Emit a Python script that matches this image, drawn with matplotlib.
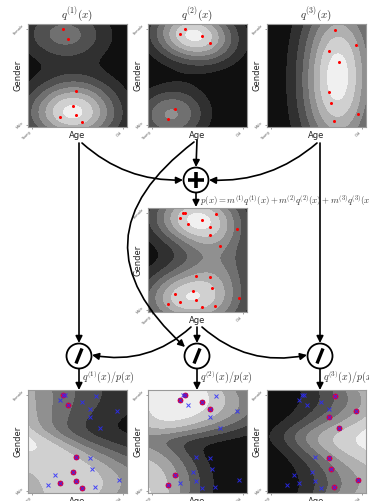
import numpy as np
import matplotlib
matplotlib.use('Agg')
import matplotlib.pyplot as plt
from matplotlib.patches import FancyArrowPatch, Circle

plt.rcParams['mathtext.fontset'] = 'cm'

# ---------------- data ----------------
age1 = [0.35, 0.40, 0.48, 0.45, 0.48, 0.32, 0.55]
gender1 = [0.95, 0.85, 0.35, 0.20, 0.12, 0.10, 0.05]
age2 = [0.37, 0.32, 0.55, 0.63, 0.27, 0.20]
gender2 = [0.95, 0.90, 0.88, 0.82, 0.17, 0.075]
age3 = [0.69, 0.90, 0.63, 0.73, 0.63, 0.65, 0.92, 0.68]
gender3 = [0.94, 0.80, 0.74, 0.63, 0.34, 0.23, 0.13, 0.055]

age_ticks = [0.04, 0.96]
age_tick_labels = ['Young', 'Old']
gender_ticks = [0.02, 0.95]
gender_tick_labels = ['Male', 'Female']

# kernel widths of the density estimate of each component (age, gender)
bandwidths = [(0.30, 0.17), (0.24, 0.17), (0.24, 0.40)]

titles = [r'$q^{(1)}(x)$', r'$q^{(2)}(x)$', r'$q^{(3)}(x)$']
ratio_labels = [r'$q^{(1)}(x)/p(x)$', r'$q^{(2)}(x)/p(x)$', r'$q^{(3)}(x)/p(x)$']
mix_label = r'$p(x) = m^{(1)}q^{(1)}(x) + m^{(2)}q^{(2)}(x) + m^{(3)}q^{(3)}(x)$'

# ---------------- densities ----------------
g = np.linspace(0, 1, 150)
X, Y = np.meshgrid(g, g)
clusters = [(age1, gender1), (age2, gender2), (age3, gender3)]


def kde(ages, genders, hx, hy):
    Z = np.zeros_like(X)
    for a, s in zip(ages, genders):
        Z += np.exp(-0.5 * (((X - a) / hx) ** 2 + ((Y - s) / hy) ** 2))
    return Z / (len(ages) * 2 * np.pi * hx * hy)


qs = [kde(a, s, *bw) for (a, s), bw in zip(clusters, bandwidths)]
ntot = sum(len(a) for a, _ in clusters)
ms = [len(a) / ntot for a, _ in clusters]
p = sum(m * q for m, q in zip(ms, qs))
all_age = sum((list(a) for a, _ in clusters), [])
all_gender = sum((list(s) for _, s in clusters), [])

# ---------------- figure ----------------
W, H = 369, 501
fig = plt.figure(figsize=(W / 100, H / 100), dpi=100)


def px_axes(x0, y0, x1, y1):
    return fig.add_axes([x0 / W, 1 - y1 / H, (x1 - x0) / W, (y1 - y0) / H])


def style(ax):
    ax.set_xlim(0, 1)
    ax.set_ylim(0, 1)
    ax.set_xticks(age_ticks)
    ax.set_xticklabels(age_tick_labels, rotation=45, fontsize=2.6, ha='right', va='top')
    ax.set_yticks(gender_ticks)
    ax.set_yticklabels(gender_tick_labels, rotation=45, fontsize=2.6, ha='right', va='center')
    ax.tick_params(length=1.5, width=0.4, pad=1, colors='#555555')
    ax.set_xlabel('Age', fontsize=6, color='#222222')
    ax.set_ylabel('Gender', fontsize=6, color='#222222')
    ax.xaxis.set_label_coords(0.5, -0.035)
    ax.yaxis.set_label_coords(-0.06, 0.5)
    for s in ax.spines.values():
        s.set_color('#999999')
        s.set_linewidth(0.8)


top_x = [(28, 127), (148, 247), (267, 366)]

# top row
for k in range(3):
    ax = px_axes(top_x[k][0], 24, top_x[k][1], 127)
    ax.contourf(X, Y, qs[k], cmap='gray')
    a, s = clusters[k]
    ax.plot(a, s, 'o', color='red', ms=2.2, mec='none')
    style(ax)
    ax.set_title(titles[k], fontsize=8, pad=0.5, color='#333333')

# middle
axm = px_axes(148, 208, 247, 312)
axm.contourf(X, Y, p, cmap='gray')
axm.plot(all_age, all_gender, 'o', color='red', ms=2.2, mec='none')
style(axm)

# bottom row
for k in range(3):
    ax = px_axes(top_x[k][0], 390, top_x[k][1], 493)
    ax.contourf(X, Y, qs[k] / p, cmap='gray')
    a, s = clusters[k]
    ax.plot(a, s, 'o', color='#e0003a', ms=4.2, mec='none')
    ax.plot(all_age, all_gender, 'x', color='#2b2bff', ms=2.6, mew=0.7, alpha=0.85)
    style(ax)

# ---------------- overlay: arrows and operators ----------------
ov = fig.add_axes([0, 0, 1, 1])
ov.set_xlim(0, W)
ov.set_ylim(H, 0)
ov.axis('off')
ov.patch.set_alpha(0)
ov.set_zorder(5)


def arrow(p0, p1, rad=0.0):
    cs = 'arc3,rad=%g' % rad
    ov.add_patch(FancyArrowPatch(p0, p1, arrowstyle='-|>', mutation_scale=10,
                                 lw=1.2, color='black', shrinkA=0, shrinkB=0,
                                 connectionstyle=cs))


r = 12.5
plus_c = (196, 180)
div_c = [(79, 356), (197, 356), (320, 356)]

arrow((82, 143), (plus_c[0] - r - 0.5, plus_c[1]), 0.2)
arrow((317, 143), (plus_c[0] + r + 0.5, plus_c[1]), -0.2)
arrow((197, 140), (plus_c[0], plus_c[1] - r - 0.5))
arrow((194, 142), (185, 347), 0.6)
arrow((196, plus_c[1] + r), (196, 207))
arrow((79, 143), (79, div_c[0][1] - r - 0.5))
arrow((320, 143), (320, div_c[2][1] - r - 0.5))
arrow((191, 327), (div_c[0][0] + r + 0.5, 355), -0.25)
arrow((202, 327), (div_c[2][0] - r - 0.5, 355), 0.25)
arrow((197, 327), (197, div_c[1][1] - r - 0.5))
for c in div_c:
    arrow((c[0], c[1] + r), (c[0], 390))

# operator circles
ov.add_patch(Circle(plus_c, r, facecolor='white', edgecolor='black', lw=1.3, zorder=6))
ov.plot([plus_c[0] - 8, plus_c[0] + 8], [plus_c[1], plus_c[1]], color='black', lw=2.6,
        solid_capstyle='butt', zorder=7)
ov.plot([plus_c[0], plus_c[0]], [plus_c[1] - 8, plus_c[1] + 8], color='black', lw=2.6,
        solid_capstyle='butt', zorder=7)
for c in div_c:
    ov.add_patch(Circle(c, r, facecolor='white', edgecolor='black', lw=1.3, zorder=6))
    ov.plot([c[0] - 3, c[0] + 3], [c[1] + 7.5, c[1] - 7.5], color='black', lw=2.4,
            solid_capstyle='butt', zorder=7)

# labels
ov.text(200, 201, mix_label, fontsize=6.4, ha='left', va='center', color='#333333')
for c, lab in zip(div_c, ratio_labels):
    ov.text(c[0] + 3, 377, lab, fontsize=7.2, ha='left', va='center', color='#333333')

fig.savefig('out.png', dpi=100)
